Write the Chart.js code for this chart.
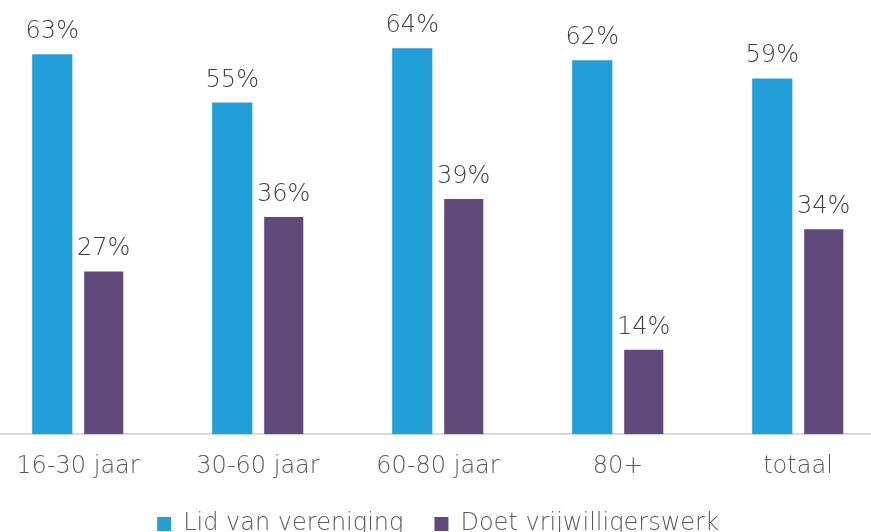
<!DOCTYPE html>
<html>
<head>
<meta charset="utf-8">
<script src="https://cdn.jsdelivr.net/npm/chart.js@4"></script>
<style>
  html, body { margin: 0; padding: 0; background: #fff; overflow: hidden; }
  #wrap { position: absolute; left: -12px; top: 0; width: 900px; height: 546px; }
</style>
</head>
<body>
<div id="wrap"><canvas id="grafico"></canvas></div>
<script>
// leeftijdsgroepen en percentages
const categorieen = ["16-30 jaar", "30-60 jaar", "60-80 jaar", "80+", "totaal"]
const lidVereniging = [63, 55, 64, 62, 59]
const vrijwilligerswerk = [27, 36, 39, 14, 34]

const fontNaam = "'DejaVu Sans Light', 'DejaVu Sans', sans-serif"

// percentages boven de staven
const waardeLabels = {
  id: "waardeLabels",
  afterDatasetsDraw(chart) {
    const ctx = chart.ctx
    ctx.save()
    ctx.font = "24px " + fontNaam
    ctx.fillStyle = "#404040"
    ctx.textAlign = "center"
    ctx.textBaseline = "alphabetic"
    chart.data.datasets.forEach((ds, i) => {
      chart.getDatasetMeta(i).data.forEach((bar, j) => {
        ctx.fillText(ds.data[j] + "%", bar.x, bar.y - 16)
      })
    })
    ctx.restore()
  }
}

new Chart(document.getElementById("grafico"), {
  type: "bar",
  data: {
    labels: categorieen,
    datasets: [
      {
        label: "Lid van vereniging",
        data: lidVereniging,
        backgroundColor: "#219fd9",
        categoryPercentage: 0.572,
        barPercentage: 0.78
      },
      {
        label: "Doet vrijwilligerswerk",
        data: vrijwilligerswerk,
        backgroundColor: "#604a7b",
        categoryPercentage: 0.572,
        barPercentage: 0.76
      }
    ]
  },
  options: {
    responsive: true,
    maintainAspectRatio: false,
    animation: false,
    layout: { padding: 0 },
    scales: {
      x: {
        grid: { display: false, tickLength: 18 },
        border: { display: true, color: "#d9d9d9", width: 2 },
        ticks: {
          color: "#595959",
          font: { family: fontNaam, size: 24 },
          padding: 0
        }
      },
      y: {
        display: false,
        min: 0,
        max: 72
      }
    },
    plugins: {
      legend: {
        position: "bottom",
        labels: {
          color: "#595959",
          font: { family: fontNaam, size: 24 },
          boxWidth: 14,
          boxHeight: 14,
          padding: 31
        }
      },
      tooltip: { enabled: false }
    }
  },
  plugins: [waardeLabels]
})
</script>
</body>
</html>
